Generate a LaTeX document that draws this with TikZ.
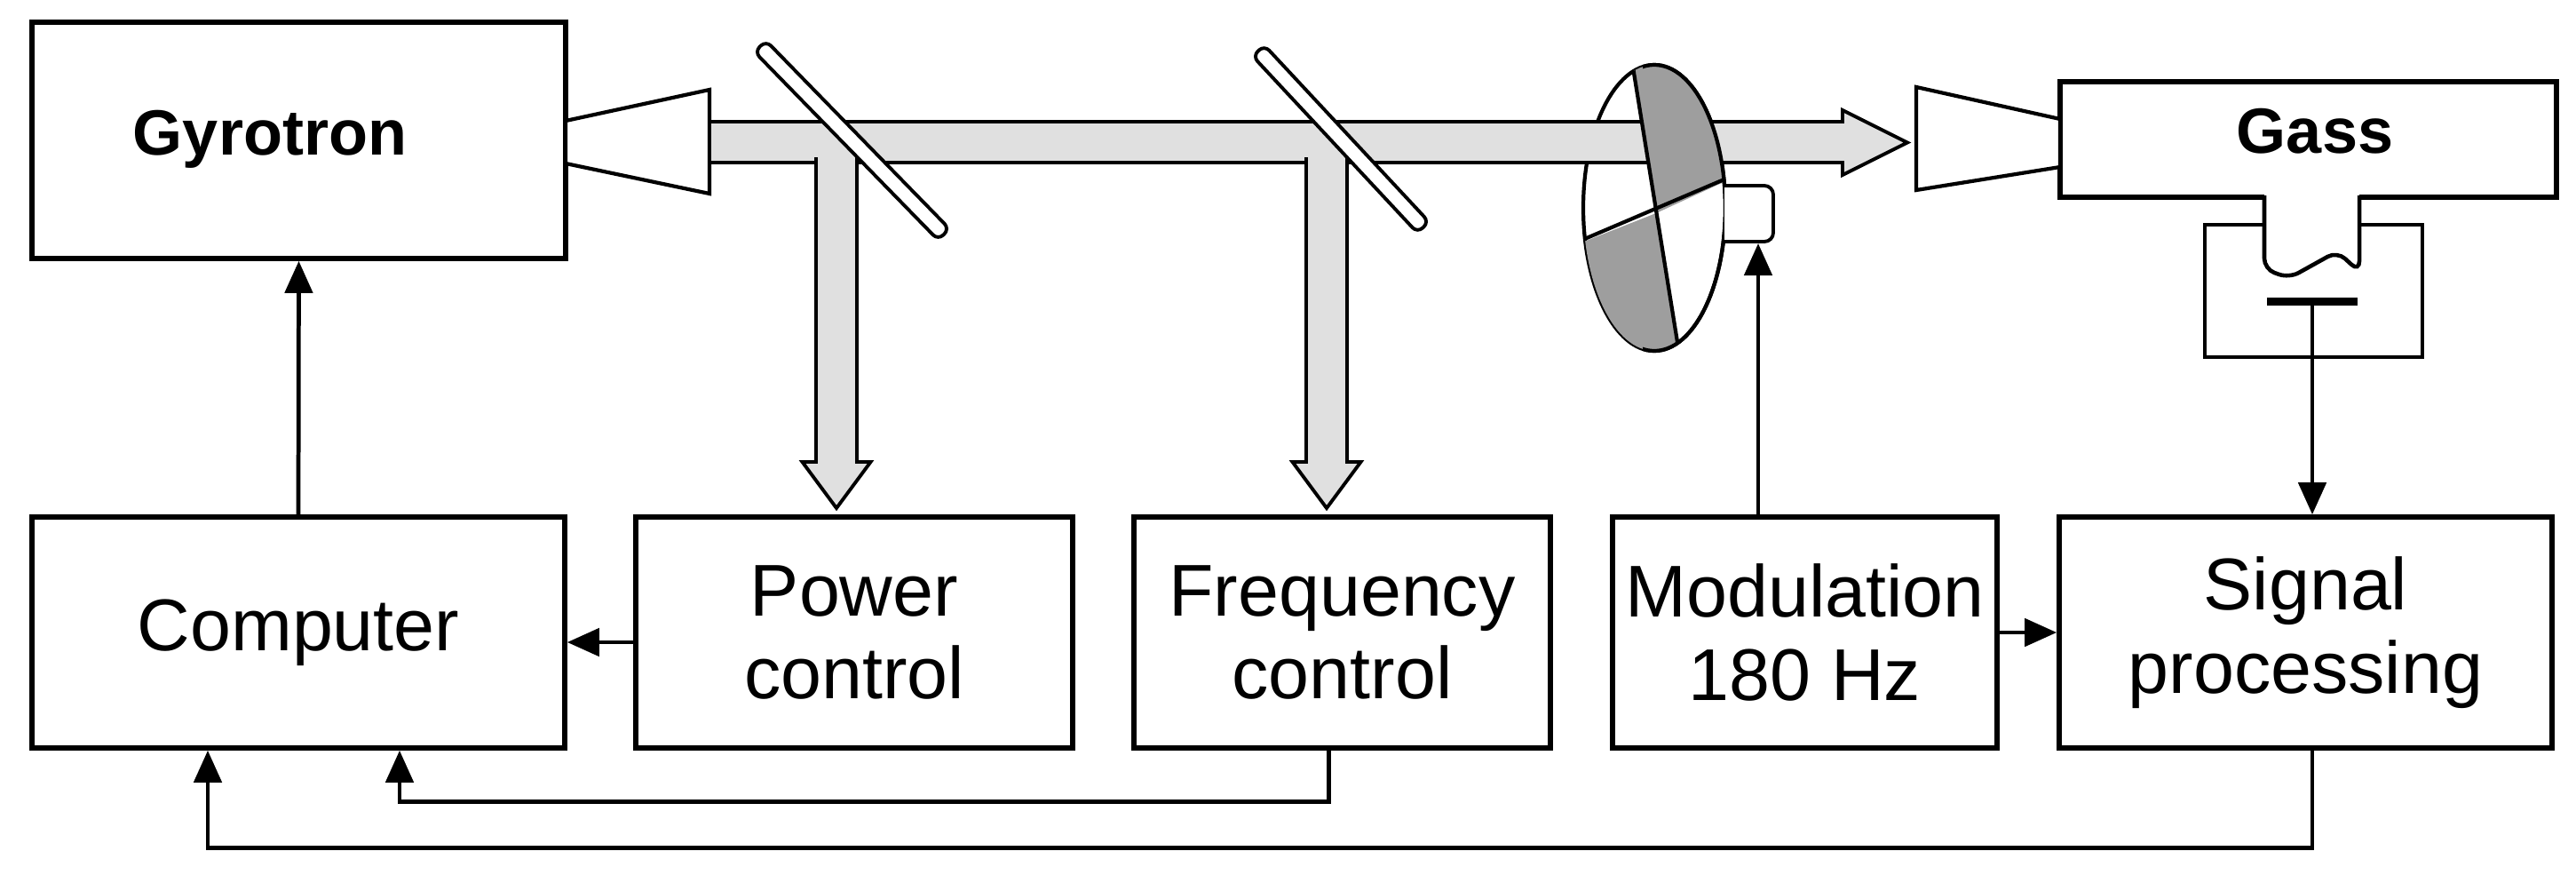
\documentclass[tikz,border=0pt]{standalone}
\usepackage{fontspec}
\setmainfont{Liberation Sans}
\usetikzlibrary{arrows.meta}
\tikzset{unit/.style = {draw, line width=1.6pt, minimum height=2.6cm, inner sep=0pt,
  align=center, font=\fontsize{23.5}{26.7}\selectfont},
  conn/.style = {line width=1.35pt, -{Triangle[length=3.6mm,width=3.1mm]}},
  beam/.style = {draw, line width=1.1pt, fill=black!12},
  mirror/.style = {draw, fill=white, line width=1.1pt, rounded corners=0.8mm,
  minimum height=0.18cm, inner sep=0pt}}

\begin{document}
\begin{tikzpicture}
  \useasboundingbox (0,0) rectangle (29.01,-9.84);
  % top row
  \node[unit, minimum width=6.01cm, minimum height=2.66cm] (gyro) at (3.365,-1.58) {};
  \node[font=\fontsize{20.5}{24}\selectfont\bfseries, anchor=base] (gyrotxt) at (3.04,-1.74) {Gyrotron};
  \node[unit, minimum width=5.59cm, minimum height=1.30cm] (gass) at (25.995,-1.57) {};
  \node[font=\fontsize{20.5}{24}\selectfont\bfseries, anchor=base] (gasstxt) at (26.07,-1.72) {Gass};
  % bottom row
  \node[unit, minimum width=6.00cm] (comp) at (3.36,-7.12) {Computer};
  \node[unit, minimum width=4.92cm] (power) at (9.62,-7.12) {Power\\control};
  \node[unit, minimum width=4.69cm] (freq) at (15.115,-7.12) {Frequency\\control};
  \node[unit, minimum width=4.33cm] (mod) at (20.325,-7.12) {Modulation\\180 Hz};
  \node[unit, minimum width=5.55cm] (signal) at (25.965,-7.12) {Signal\\processing};
  % horns
  \draw[line width=1.2pt, fill=white] (6.37,-1.36) -- (7.99,-1.01) -- (7.99,-2.18) -- (6.37,-1.84) -- cycle;
  \draw[line width=1.2pt, fill=white] (21.58,-0.98) -- (21.58,-2.14) -- (23.20,-1.88) -- (23.20,-1.34) -- cycle;
  % chopper disc under the beam
  \draw[line width=1.2pt, fill=white] (18.63,-2.34) ellipse (0.80cm and 1.61cm);
  % beam
  \draw[beam] (7.99,-1.37) -- (20.75,-1.37) -- (20.75,-1.24) -- (21.48,-1.605)
    -- (20.75,-1.97) -- (20.75,-1.83) -- (7.99,-1.83) -- cycle;
  \foreach \x in {9.42,14.94}
    \draw[beam] (\x-0.23,-1.77) -- (\x-0.23,-5.20) -- (\x-0.385,-5.20) -- (\x,-5.72)
      -- (\x+0.385,-5.20) -- (\x+0.23,-5.20) -- (\x+0.23,-1.77);
  \node[mirror, minimum width=2.96cm, rotate=-45.7] (mirrorA) at (9.595,-1.58) {};
  \node[mirror, minimum width=2.72cm, rotate=-47] (mirrorB) at (15.10,-1.565) {};
  % chopper
  \begin{scope}
    \clip (18.63,-2.34) ellipse (0.80cm and 1.61cm);
    \fill[black!38] (18.65,-2.40) -- (18.316,-0.30) -- (20.20,-0.30) -- (20.20,-1.686) -- cycle;
    \fill[black!38] (18.65,-2.40) -- (17.00,-3.05) -- (17.00,-4.50) -- (18.995,-4.50) -- cycle;
    \draw[line width=1.2pt] (18.316,-0.30) -- (18.995,-4.50);
    \draw[line width=1.2pt] (17.00,-3.05) -- (20.20,-1.686);
  \end{scope}
  \begin{scope}
    \clip (18.50,0) rectangle (20.5,-4.5);
    \draw[line width=1.2pt] (18.63,-2.34) ellipse (0.80cm and 1.61cm);
  \end{scope}
  \draw[line width=1.1pt, fill=white, rounded corners=1mm] (19.42,-2.09) -- (19.97,-2.09)
    -- (19.97,-2.72) -- (19.42,-2.72);
  \coordinate (motor) at (19.80,-2.74);
  % detector
  \draw[line width=1.3pt] (24.83,-2.53) rectangle (27.28,-4.02);
  \fill[white] (25.50,-2.12) rectangle (26.57,-2.64);
  \draw[line width=1.3pt, rounded corners=1.2mm] (25.50,-2.20) -- (25.50,-3.03) -- (25.78,-3.13)
    -- (26.32,-2.83) -- (26.57,-3.06) -- (26.57,-2.20);
  \draw[line width=2.6pt] (25.53,-3.395) -- (26.55,-3.395);
  \coordinate (plate) at (26.04,-3.395);
  % connections
  \draw[conn] (comp.north) -- (gyro.south);
  \draw[conn] (mod.north -| motor) -- (motor);
  \draw[conn] (plate) -- (plate |- signal.north);
  \draw[conn] ([yshift=-0.11cm]power.west) -- ([yshift=-0.11cm]comp.east);
  \draw[conn] (mod.east) -- (signal.west);
  \draw[conn] ([xshift=-0.15cm]freq.south) -- ++(0,-0.58) -| ([xshift=1.14cm]comp.south);
  \draw[conn] ([xshift=0.075cm]signal.south) -- ++(0,-1.10) -| ([xshift=-1.02cm]comp.south);
\end{tikzpicture}
\end{document}
